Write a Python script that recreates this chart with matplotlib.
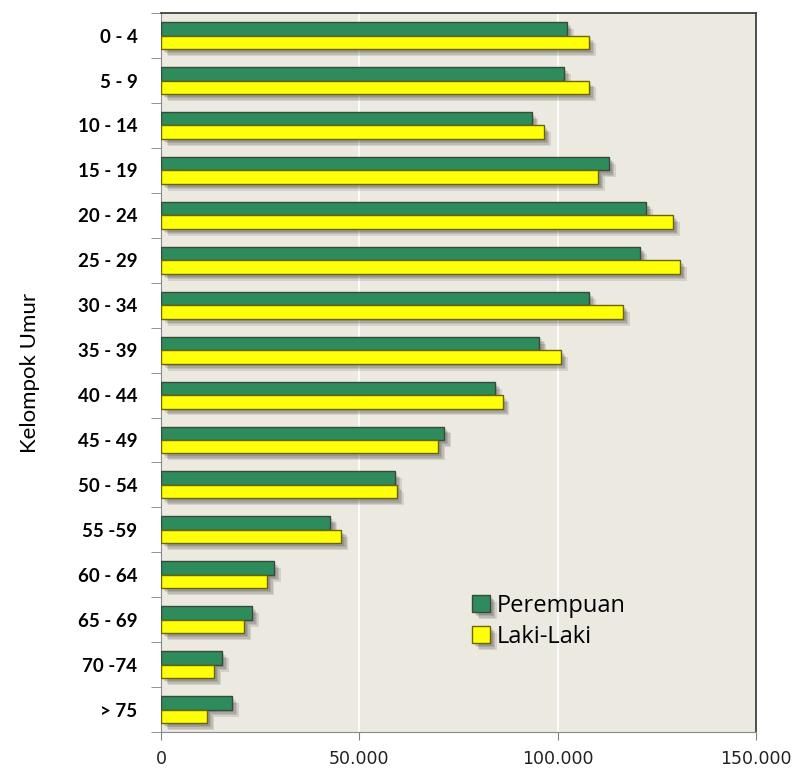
import matplotlib
matplotlib.use("Agg")
import matplotlib.pyplot as plt
import matplotlib.patheffects as pe
from matplotlib.ticker import FuncFormatter
import numpy as np

kelompok = ["0 - 4", "5 - 9", "10 - 14", "15 - 19", "20 - 24", "25 - 29", "30 - 34", "35 - 39",
            "40 - 44", "45 - 49", "50 - 54", "55 -59", "60 - 64", "65 - 69", "70 -74", "> 75"]
perempuan = [102300, 101500, 93400, 112900, 122200, 120700, 107800, 95400,
             84100, 71400, 58900, 42700, 28400, 22900, 15300, 17800]
laki_laki = [107800, 107800, 96500, 110100, 129000, 130800, 116400, 100800,
             86100, 69900, 59400, 45500, 26800, 21000, 13400, 11600]
xticks = [0, 50000, 100000, 150000]

opbar = {"height": 0.3, "linewidth": 1.0}
# soft drop shadow: a few stacked offset copies
shadow = [pe.SimplePatchShadow(offset=(o, -o), shadow_rgbFace="k", alpha=0.1) for o in (2, 3, 4, 5)] + [pe.Normal()]

fig = plt.figure(figsize=(7.95, 7.73), dpi=100)
ax = fig.add_axes([0.2025, 0.053, 0.7485, 0.930])
ax.set_facecolor("#ECE9E0")

y = np.arange(len(kelompok))
b1 = ax.barh(y - 0.15, perempuan, color="#2E8B5C", edgecolor="#3A4A3A", label="Perempuan", zorder=3, **opbar)
b2 = ax.barh(y + 0.15, laki_laki, color="#FFFF0A", edgecolor="#6B6400", label="Laki-Laki", zorder=3, **opbar)
for bar in list(b1) + list(b2):
    bar.set_path_effects(shadow)

ax.set_xlim(0, 150000)
ax.set_ylim(len(kelompok) - 0.5, -0.5)
ax.set_xticks(xticks)
ax.xaxis.set_major_formatter(FuncFormatter(lambda v, p: "{:,.0f}".format(v).replace(",", ".")))
ax.set_yticks(y)
ax.set_yticks(np.arange(len(kelompok) + 1) - 0.5, minor=True)
ax.set_yticklabels(kelompok, fontfamily="Lato", fontweight="bold", fontsize=13.5)
ax.tick_params(axis="y", which="major", length=0, pad=17)
ax.tick_params(axis="y", which="minor", length=7, color="#808080")
ax.tick_params(axis="x", length=6, color="#808080", labelsize=12.5, pad=7, labelcolor="#222222")
ax.grid(axis="x", color="white", linewidth=1.2, zorder=0)
ax.set_axisbelow(True)

for s in ("top", "right"):
    ax.spines[s].set_color("#404040")
    ax.spines[s].set_linewidth(1.3)
for s in ("left", "bottom"):
    ax.spines[s].set_color("#8A8A8A")

ax.set_ylabel("Kelompok Umur", fontfamily="Lato", fontsize=16)
ax.yaxis.set_label_coords(-0.203, 0.5)
ax.legend(loc="upper left", bbox_to_anchor=(0.487, 0.222), frameon=False,
          prop={"family": "Open Sans", "size": 17}, handlelength=0.75, handleheight=0.75,
          handletextpad=0.3, labelspacing=0.3)

fig.savefig("out.png", dpi=100)
